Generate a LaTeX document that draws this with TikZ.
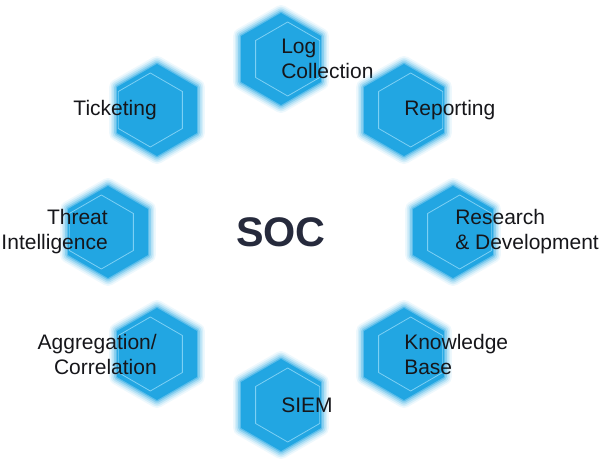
\documentclass[tikz,border=0pt]{standalone}
\usepackage{fontspec}
\setmainfont{Liberation Sans}
\usepackage{tikz}
\usetikzlibrary{shapes.geometric}
\definecolor{hexblue}{RGB}{34, 166, 226}
\definecolor{hexline}{RGB}{125, 208, 244}
\definecolor{socnavy}{RGB}{38, 42, 60}
\definecolor{labelink}{RGB}{22, 22, 26}

\tikzset{
  glow/.style={draw=hexblue, draw opacity=#1, line join=round},
  hexcell/.style={regular polygon, regular polygon sides=6, regular polygon rotate=30,
    minimum size=69pt, inner sep=0pt, outer sep=0pt, fill=hexblue,
    preaction={glow=0.08, line width=12pt},
    preaction={glow=0.12, line width=9.5pt},
    preaction={glow=0.18, line width=7pt},
    preaction={glow=0.28, line width=4.5pt},
    preaction={glow=0.45, line width=2pt}},
  hexrim/.style={regular polygon, regular polygon sides=6, regular polygon rotate=30,
    minimum size=55.5pt, inner sep=0pt, draw=hexline, line width=0.6pt},
  itemtxt/.style={inner sep=0pt, text=labelink, font=\fontsize{15.75}{18.75}\selectfont},
  itemleft/.style={itemtxt, anchor=east, align=right},
  itemright/.style={itemtxt, anchor=west, align=left}
}

\begin{document}
\begin{tikzpicture}[x=0.75pt, y=0.75pt]
        \useasboundingbox (0,0) rectangle (600,464);
        % centre
        \node[text=socnavy, font=\bfseries\fontsize{31}{36}\selectfont] (soc) at (281,232) {SOC};
        % Log Collection
        \node[hexcell] (hlog) at (281,405) {};
        \node[hexrim, xshift=5pt] (rlog) at (hlog.center) {};
        \node[itemright] (tlog) at (hlog.center) {Log\\Collection};
        % Reporting
        \node[hexcell] (hrep) at (404,354) {};
        \node[hexrim, xshift=5pt] (rrep) at (hrep.center) {};
        \node[itemright] (trep) at (hrep.center) {Reporting};
        % Research & Development
        \node[hexcell] (hrnd) at (453,232) {};
        \node[hexrim, xshift=5pt] (rrnd) at (hrnd.center) {};
        \node[itemright, xshift=1.5pt] (trnd) at (hrnd.center) {Research\\\& Development};
        % Knowledge Base
        \node[hexcell] (hkb) at (404,110) {};
        \node[hexrim, xshift=5pt] (rkb) at (hkb.center) {};
        \node[itemright] (tkb) at (hkb.center) {Knowledge\\Base};
        % SIEM
        \node[hexcell] (hsiem) at (281,59) {};
        \node[hexrim, xshift=5pt] (rsiem) at (hsiem.center) {};
        \node[itemright] (tsiem) at (hsiem.center) {SIEM};
        % Aggregation / Correlation
        \node[hexcell] (hagg) at (157,110) {};
        \node[hexrim, xshift=-5pt] (ragg) at (hagg.center) {};
        \node[itemleft] (tagg) at (hagg.center) {Aggregation/\\Correlation};
        % Threat Intelligence
        \node[hexcell] (hthr) at (108,232) {};
        \node[hexrim, xshift=-5pt] (rthr) at (hthr.center) {};
        \node[itemleft] (tthr) at (hthr.center) {Threat\\Intelligence};
        % Ticketing
        \node[hexcell] (htick) at (157,354) {};
        \node[hexrim, xshift=-5pt] (rtick) at (htick.center) {};
        \node[itemleft] (ttick) at (htick.center) {Ticketing};
      \end{tikzpicture}
\end{document}
